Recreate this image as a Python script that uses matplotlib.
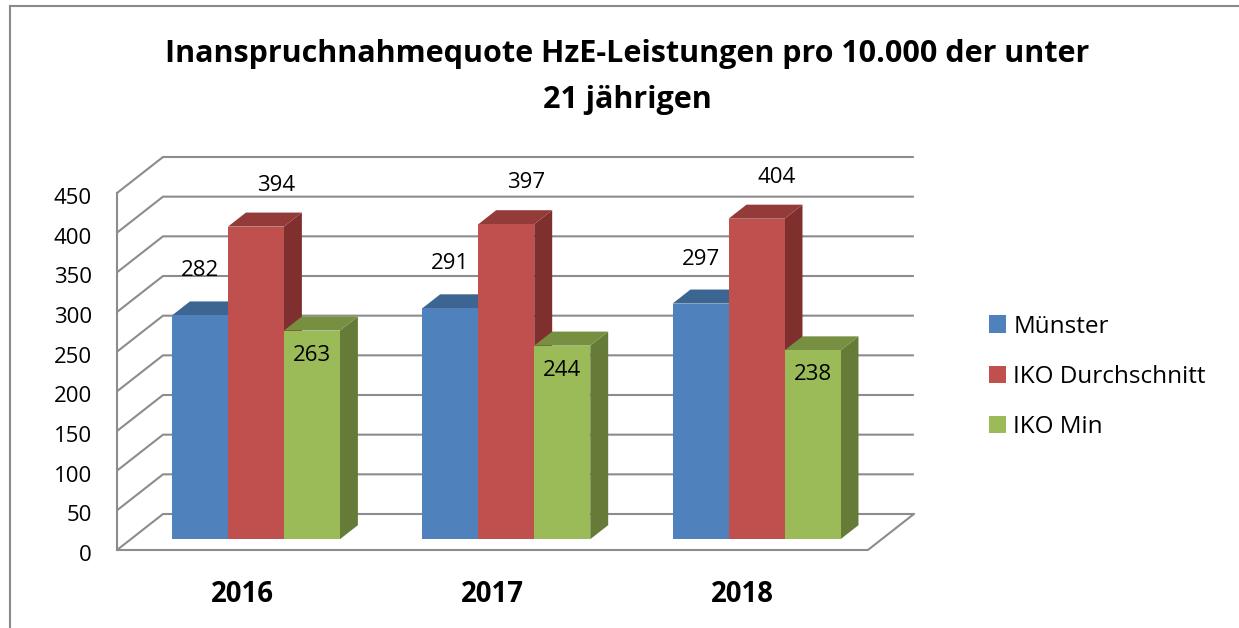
import matplotlib.pyplot as plt
from matplotlib.patches import Polygon, Patch
from matplotlib.lines import Line2D

plt.rcParams['font.family'] = ['Open Sans', 'DejaVu Sans']

# data
years = ['2016', '2017', '2018']
series = ['Münster', 'IKO Durchschnitt', 'IKO Min']
muenster = [282, 291, 297]
iko_avg = [394, 397, 404]
iko_min = [263, 244, 238]
yticks = [0, 50, 100, 150, 200, 250, 300, 350, 400, 450]

values = [muenster, iko_avg, iko_min]
front_col = ['#4F81BD', '#C0504D', '#9BBB59']
top_col = ['#3D6591', '#923B39', '#778F40']
side_col = ['#365A85', '#7F302E', '#667B37']
grid_col = '#8C8C8C'

W, H = 1239, 628
fig = plt.figure(figsize=(W / 100, H / 100), dpi=100)
ax = fig.add_axes([0, 0, 1, 1])

# scale: one category = 250.3 px, 450 units = 357 px, origin at the front floor corner
PX_CAT = 250.3
PX_VAL = 357 / 450
X0, Y0 = 117, 550
ax.set_xlim(-X0 / PX_CAT, (W - X0) / PX_CAT)
ax.set_ylim((Y0 - H) / PX_VAL, Y0 / PX_VAL)
ax.axis('off')

# oblique depth offset of the 3D box
DX = 46 / PX_CAT
DY = 36 / PX_VAL


def P(x, v, d):
    return (x + d * DX, v + d * DY)


def px_v(p):
    return p / PX_VAL


def px_x(p):
    return p / PX_CAT


n = len(years)
lw = 1.5

# walls: side diagonals + back wall gridlines
for t in yticks:
    pts = [P(0, t, 0), P(0, t, 1), P(n, t, 1)]
    ax.plot([p[0] for p in pts], [p[1] for p in pts], color=grid_col, lw=lw,
            solid_capstyle='butt', zorder=1)
# front vertical edge
ax.plot([0, 0], [0, yticks[-1]], color=grid_col, lw=lw, zorder=1)
# floor front and right edges
pts = [P(0, 0, 0), P(n, 0, 0), P(n, 0, 1)]
ax.plot([p[0] for p in pts], [p[1] for p in pts], color=grid_col, lw=lw, zorder=1)

# bars
w = 56 / PX_CAT
d0, d1 = 0.3, 0.69
z = 2
label_off = [(0, 39), (20, 36), (0, -30)]  # px offsets of label baselines from the bar top
for i in range(n):
    for k in range(len(series)):
        v = values[k][i]
        xl = i + 0.5 + (k - 1.5) * w
        xr = xl + w
        side = [P(xr, 0, d0), P(xr, 0, d1), P(xr, v, d1), P(xr, v, d0)]
        topf = [P(xl, v, d0), P(xr, v, d0), P(xr, v, d1), P(xl, v, d1)]
        frontf = [P(xl, 0, d0), P(xr, 0, d0), P(xr, v, d0), P(xl, v, d0)]
        ax.add_patch(Polygon(side, closed=True, fc=side_col[k], ec='none', zorder=z))
        ax.add_patch(Polygon(topf, closed=True, fc=top_col[k], ec='none', zorder=z))
        ax.add_patch(Polygon(frontf, closed=True, fc=front_col[k], ec='none', zorder=z))
        z += 1
        cx, cy = P((xl + xr) / 2, v, d0)
        ox, oy = label_off[k]
        ax.text(cx + px_x(ox), cy + px_v(oy), str(v), ha='center', va='baseline',
                fontsize=16, color='black', zorder=50)

# value axis labels
for t in yticks:
    ax.text(px_x(-25), t - px_v(11), str(t), ha='right', va='baseline', fontsize=16)

# category labels
for i, y in enumerate(years):
    ax.text(i + 0.5, px_v(-52), y, ha='center', va='baseline', fontsize=19.8,
            fontweight='bold')

# title
fig.text(627 / W, 1 - 62 / H, 'Inanspruchnahmequote HzE-Leistungen pro 10.000 der unter',
         ha='center', va='baseline', fontsize=22, fontweight='bold')
fig.text(627 / W, 1 - 108 / H, '21 jährigen', ha='center', va='baseline',
         fontsize=22, fontweight='bold')

# legend
handles = [Patch(facecolor=c, edgecolor='none') for c in front_col]
fig.legend(handles, series, loc='center left', bbox_to_anchor=(989 / W, 1 - 377 / H),
           frameon=False, fontsize=17.5, handlelength=0.7, handleheight=0.7,
           handletextpad=0.3, labelspacing=1.09, borderpad=0, borderaxespad=0)

# chart border
fig.add_artist(Line2D([10 / W, 10 / W], [0, 1 - 6 / H], color='#8A8A8A', lw=1.5))
fig.add_artist(Line2D([10 / W, 1], [1 - 6 / H, 1 - 6 / H], color='#8A8A8A', lw=1.5))

fig.savefig('out.png', dpi=100)
